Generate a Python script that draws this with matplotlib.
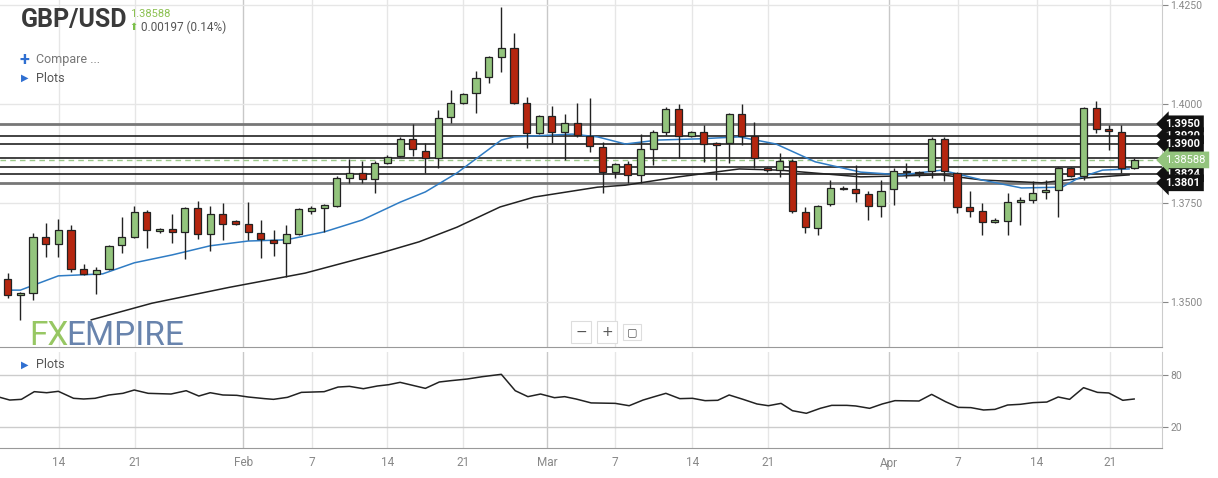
import matplotlib
matplotlib.use("Agg")
import matplotlib.pyplot as plt
from matplotlib.patches import Rectangle
import numpy as np

# ---------------- data ----------------
opens = [1.3558,1.3518,1.3523,1.3664,1.3647,1.3682,1.3583,1.3571,1.3583,1.3644,
         1.3664,1.3727,1.3679,1.3684,1.3677,1.3737,1.3672,1.3722,1.3705,1.3697,
         1.3674,1.3657,1.3649,1.3672,1.3730,1.3737,1.3742,1.3813,1.3826,1.3811,
         1.3851,1.3869,1.3912,1.3881,1.3864,1.3967,1.4003,1.4028,1.4068,1.4119,
         1.4141,1.4003,1.3927,1.3970,1.3929,1.3952,1.3919,1.3891,1.3828,1.3849,
         1.3821,1.3886,1.3929,1.3987,1.3919,1.3929,1.3901,1.3901,1.3974,1.3919,
         1.3838,1.3833,1.3856,1.3727,1.3687,1.3747,1.3788,1.3785,1.3773,1.3742,
         1.3785,1.3831,1.3828,1.3831,1.3912,1.3826,1.3740,1.3730,1.3702,1.3705,
         1.3752,1.3758,1.3778,1.3783,1.3838,1.3818,1.3990,1.3937,1.3929,1.3839]
highs = [1.3573,1.3525,1.3674,1.3700,1.3710,1.3694,1.3596,1.3588,1.3644,1.3715,
         1.3742,1.3732,1.3687,1.3722,1.3740,1.3755,1.3742,1.3750,1.3707,1.3752,
         1.3707,1.3682,1.3694,1.3737,1.3742,1.3747,1.3818,1.3861,1.3856,1.3856,
         1.3871,1.3917,1.3949,1.3901,1.3985,1.4035,1.4028,1.4083,1.4121,1.4245,
         1.4179,1.4018,1.3972,1.3995,1.3974,1.4003,1.4015,1.3904,1.3851,1.3856,
         1.3924,1.3934,1.3992,1.4000,1.3932,1.3947,1.3904,1.3977,1.4000,1.3954,
         1.3841,1.3876,1.3861,1.3740,1.3745,1.3808,1.3793,1.3846,1.3780,1.3808,
         1.3838,1.3851,1.3831,1.3917,1.3917,1.3828,1.3780,1.3750,1.3712,1.3775,
         1.3765,1.3806,1.3808,1.3841,1.3841,1.3992,1.4008,1.3947,1.3947,1.3864]
lows = [1.3510,1.3455,1.3505,1.3614,1.3614,1.3576,1.3568,1.3520,1.3581,1.3624,
        1.3662,1.3637,1.3674,1.3649,1.3609,1.3659,1.3629,1.3657,1.3694,1.3657,
        1.3611,1.3616,1.3563,1.3669,1.3722,1.3677,1.3740,1.3801,1.3801,1.3775,
        1.3849,1.3866,1.3869,1.3826,1.3838,1.3952,1.4000,1.3977,1.4053,1.4081,
        1.4000,1.3889,1.3924,1.3901,1.3859,1.3917,1.3879,1.3775,1.3813,1.3801,
        1.3801,1.3846,1.3922,1.3864,1.3917,1.3854,1.3808,1.3851,1.3896,1.3838,
        1.3828,1.3816,1.3725,1.3674,1.3669,1.3742,1.3783,1.3752,1.3707,1.3715,
        1.3745,1.3813,1.3816,1.3813,1.3806,1.3725,1.3715,1.3669,1.3700,1.3669,
        1.3694,1.3750,1.3760,1.3715,1.3816,1.3808,1.3927,1.3884,1.3826,1.3836]
closes = [1.3518,1.3523,1.3664,1.3647,1.3682,1.3583,1.3571,1.3581,1.3642,1.3664,
          1.3727,1.3682,1.3684,1.3677,1.3737,1.3672,1.3722,1.3697,1.3697,1.3677,
          1.3659,1.3649,1.3672,1.3735,1.3737,1.3745,1.3813,1.3826,1.3811,1.3851,
          1.3866,1.3912,1.3886,1.3864,1.3964,1.4003,1.4025,1.4066,1.4119,1.4141,
          1.4003,1.3927,1.3970,1.3929,1.3952,1.3922,1.3894,1.3828,1.3849,1.3821,
          1.3886,1.3929,1.3987,1.3919,1.3929,1.3899,1.3896,1.3974,1.3919,1.3864,
          1.3834,1.3856,1.3730,1.3689,1.3742,1.3788,1.3785,1.3775,1.3742,1.3780,
          1.3831,1.3828,1.3826,1.3912,1.3831,1.3740,1.3730,1.3702,1.3707,1.3752,
          1.3758,1.3775,1.3783,1.3838,1.3818,1.3990,1.3937,1.3932,1.3838,1.38588]

ma_fast_x = [1,2,5,8.5,11,14,17,20,23,26,29,32,34,36.5,40,41,45.6,47.6,
             49.8,52.4,55.6,58.8,61.7,64.8,68.4,71.6,74.8,78,81.1,84.3,85.6,87.5,89.6]
ma_fast = [1.3530,1.3530,1.3566,1.3571,1.3599,1.3619,1.3642,1.3654,1.3657,1.3677,1.3707,
           1.3752,1.3778,1.3826,1.3909,1.3917,1.3924,1.3917,
           1.3899,1.3909,1.3912,1.3917,1.3899,1.3854,1.3828,1.3821,1.3833,1.3808,
           1.3788,1.3790,1.3813,1.3833,1.3836]
ma_slow_x = [7.6,12.4,18.5,24.5,30.5,33.5,36.5,39.9,42.6,47.6,
             49.8,54,58.8,62,68.4,74.8,78,82.7,86,89.6]
ma_slow = [1.3455,1.3497,1.3537,1.3573,1.3624,1.3652,1.3689,1.3740,1.3765,1.3790,
           1.3795,1.3816,1.3836,1.3833,1.3816,1.3821,1.3808,1.3801,1.3813,1.3821]

osc_x = [0.39,1.16,2.08,3.1,4.08,5.0,6.2,7.0,7.9,9.0,10.1,11.0,12.1,13.9,15.1,16.1,17.0,
         18.0,19.1,20.0,21.3,22.0,23.1,24.2,26.0,27.1,28.0,29.1,30.2,31.1,32.0,34.0,
         35.1,36.0,37.3,38.5,40.0,41.1,42.1,43.1,44.2,45.0,45.9,47.1,
         49.0,50.1,51.2,52.1,53.0,54.1,55.1,56.1,57.1,58.0,59.1,60.2,61.1,62.1,63.0,
         64.1,65.2,66.1,67.3,68.0,69.1,70.1,71.1,73.0,74.0,75.1,76.1,77.1,78.1,79.0,
         80.0,81.0,82.0,83.1,84.0,84.9,86.0,87.1,88.0,89.1,90.0]
osc = [54.4,51.3,52.1,60.9,59.7,61.3,53.3,52.5,53.3,57.1,59.0,62.8,59.0,58.2,62.0,55.9,
       59.7,57.1,56.7,54.8,52.9,52.1,54.4,60.1,60.9,66.2,67.0,64.3,67.4,68.9,71.6,64.7,
       72.0,73.5,75.4,78.1,80.8,62.0,55.2,58.2,54.0,55.2,52.5,48.0,
       47.5,44.8,51.3,55.2,59.0,52.9,53.3,50.6,51.0,57.1,52.1,46.8,44.8,47.5,39.1,
       36.1,41.8,45.2,45.2,44.5,41.8,46.8,50.6,50.2,57.8,49.4,42.9,42.6,39.9,40.6,
       45.6,46.4,48.3,49.0,54.8,52.1,65.5,60.1,59.4,51.0,52.5]

date_ticks = [5.05,11.05,19.6,25.05,31.0,37.0,43.6,49.0,55.1,61.1,70.6,76.1,82.3,88.1]
date_labels = ["14","21","Feb","7","14","21","Mar","7","14","21","Apr","7","14","21"]
month_ticks = [19.6,43.6,70.6]

price_ticks = [1.3500,1.3750,1.4000,1.4250]
levels_labeled = [1.3950,1.3920,1.3900,1.3824,1.3801]
levels_plain = [1.3863,1.3840]
last_price = 1.38588
osc_ticks = [20,80]

# ---------------- figure ----------------
W, H = 1218, 478
fig = plt.figure(figsize=(W/100, H/100), dpi=100)
plt.rcParams["font.family"] = "Roboto"
def ax_rect(x0, y0, x1, y1):
    return [x0/W, 1-y1/H, (x1-x0)/W, (y1-y0)/H]

ax = fig.add_axes(ax_rect(0, 0, 1162, 347))
ax2 = fig.add_axes(ax_rect(0, 352, 1162, 448))
xlim = (0.39, 92.2)
n = len(opens)
xs = np.arange(1, n+1)

GREEN = "#93c47d"
RED = "#b5260f"
GRID = "#e6e6e6"

for a in (ax, ax2):
    a.set_xlim(*xlim)
    for t in date_ticks:
        a.axvline(t, color="#c8c8c8" if t in month_ticks else GRID, lw=1, zorder=0)
    for s in ["top", "left"]:
        a.spines[s].set_visible(False)
    a.spines["right"].set_color("#cccccc")
    a.spines["bottom"].set_color("#999999")
    a.set_xticks([])
    a.yaxis.tick_right()
    a.tick_params(axis="y", colors="#888888", labelsize=7.5, length=4, pad=2)

ax.set_ylim(1.33864, 1.42626)
ax.set_yticks(price_ticks)
ax.set_yticklabels([f"{v:.4f}" for v in price_ticks])
for v in price_ticks:
    ax.axhline(v, color=GRID, lw=1, zorder=0)

# levels
for v in levels_labeled + levels_plain:
    lw = 2.0 if v in (1.3950, 1.3801) else 1.2
    col = "#777777" if v in (1.3950, 1.3801) else "#222222"
    ax.axhline(v, color=col, lw=lw, zorder=1)
ax.axhline(last_price, color="#9cc98a", lw=1, ls=(0, (4, 3)), zorder=1)

# MAs
ax.plot(ma_slow_x, ma_slow, color="#222222", lw=1.1, zorder=2)
ax.plot(ma_fast_x, ma_fast, color="#2f7cc4", lw=1.1, zorder=2)

# candles
bw = 0.56
for x, o, h, l, c in zip(xs, opens, highs, lows, closes):
    up = c >= o
    ax.vlines(x, l, h, color="#222222", lw=1, zorder=3)
    lo, hi = min(o, c), max(o, c)
    ht = max(hi - lo, 0.00012)
    ax.add_patch(Rectangle((x - bw/2, lo), bw, ht, facecolor=GREEN if up else RED,
                           edgecolor="#222222", lw=0.9, zorder=4))

# level labels
yt = ax.get_yaxis_transform()
for v in levels_labeled:
    ax.text(1.003, v, f"{v:.4f}", transform=yt, ha="left", va="center", fontsize=8,
            fontweight="bold", color="white", clip_on=False, zorder=10,
            bbox=dict(boxstyle="larrow,pad=0.3", fc="#111111", ec="none"))
ax.text(1.003, last_price, f"{last_price:.5f}", transform=yt, ha="left", va="center",
        fontsize=8, color="white", clip_on=False, zorder=11,
        bbox=dict(boxstyle="larrow,pad=0.3", fc="#93c47d", ec="none"))

# oscillator
ax2.set_ylim(-3.7, 106.4)
ax2.set_yticks(osc_ticks)
for v in osc_ticks:
    ax2.axhline(v, color="#cccccc", lw=1, zorder=0)
ax2.plot(osc_x, osc, color="#222222", lw=1.1)

# date labels
for t, lab in zip(date_ticks, date_labels):
    xp = ax2.transData.transform((t, 0))[0] / W
    fig.text(xp, 1 - 463/H, lab, ha="center", va="center", fontsize=8.5, color="#888888")

# header texts
fig.text(21/W, 1-20/H, "GBP/USD", fontsize=18, fontweight="bold", color="#3a3a3a", va="center")
fig.text(130/W, 1-14/H, "1.38588", fontsize=8, color="#8cc152", va="center")
fig.text(129/W, 1-27/H, "\u2B06", fontsize=7, color="#7cc04a", va="center", fontfamily="DejaVu Sans")
fig.text(141/W, 1-27/H, "0.00197 (0.14%)", fontsize=8.5, color="#555555", va="center")
fig.text(19/W, 1-60/H, "+", fontsize=13, color="#2f6fd1", va="center", fontweight="bold")
fig.text(36/W, 1-60/H, "Compare ...", fontsize=9, color="#777777", va="center")
fig.text(21/W, 1-78/H, "\u25B6", fontsize=7, color="#2f6fd1", va="center", fontfamily="DejaVu Sans")
fig.text(36/W, 1-78/H, "Plots", fontsize=9, color="#555555", va="center")
fig.text(21/W, 1-365/H, "\u25B6", fontsize=7, color="#2f6fd1", va="center", fontfamily="DejaVu Sans")
fig.text(36/W, 1-365/H, "Plots", fontsize=9, color="#555555", va="center")

# logo
fig.text(29/W, 1-336/H, "FX", fontsize=24, color="#8cc152", va="center", alpha=0.9)
fig.text(66/W, 1-336/H, "EMPIRE", fontsize=24, color="#4f6f9f", va="center", alpha=0.85)

# zoom buttons
for xp, s in [(581, "\u2212"), (607, "+"), (632, "\u25A2")]:
    fig.text(xp/W, 1-332/H, s, fontsize=10 if s != "\u25A2" else 8, color="#555555",
             ha="center", va="center", fontfamily="DejaVu Sans",
             bbox=dict(boxstyle="square,pad=0.3", fc="white", ec="#dddddd", lw=0.8))

fig.savefig("out.png", dpi=100)
